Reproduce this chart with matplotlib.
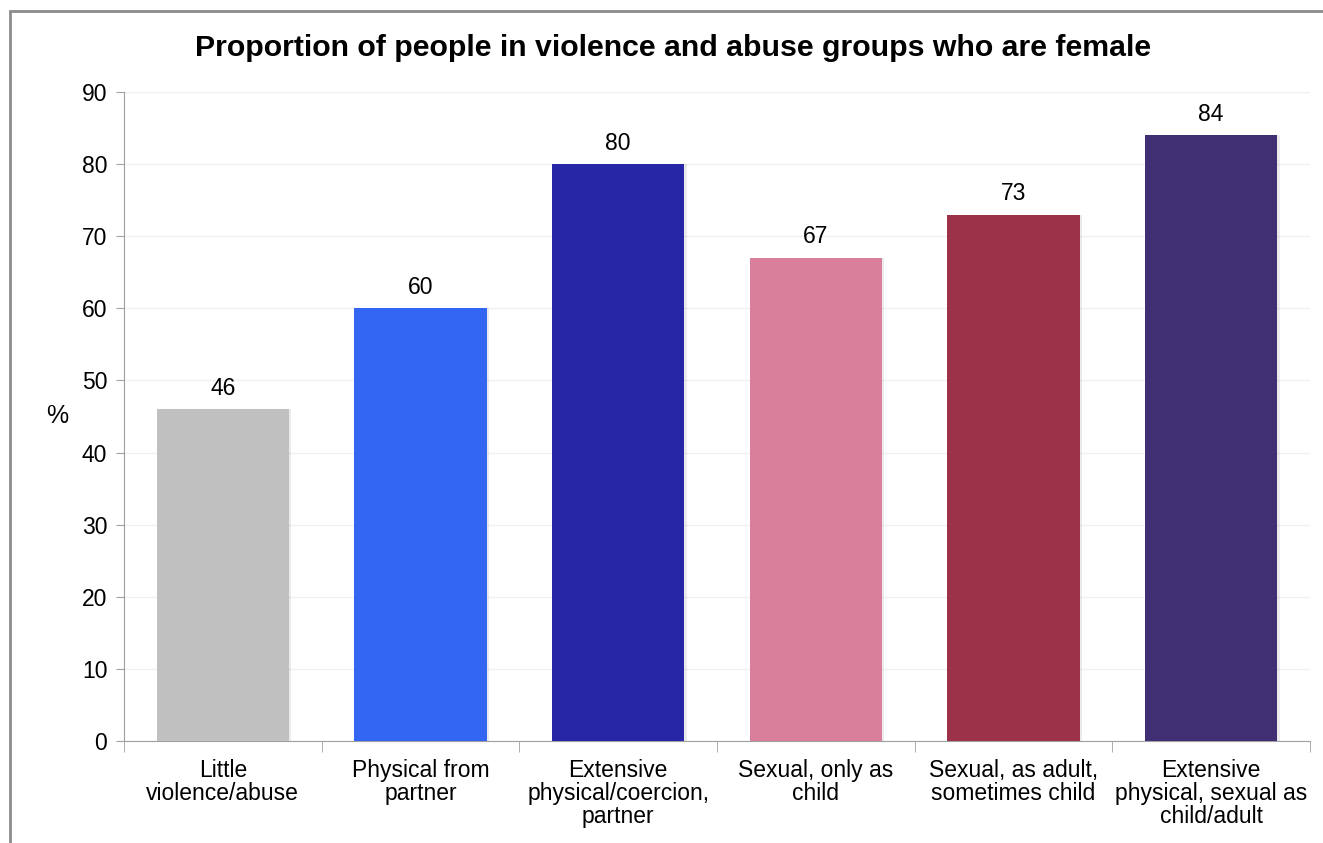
import numpy as np
import matplotlib.pyplot as plt
from matplotlib.patches import Rectangle

categories = ['Little\nviolence/abuse', 'Physical from\npartner',
              'Extensive\nphysical/coercion,\npartner', 'Sexual, only as\nchild',
              'Sexual, as adult,\nsometimes child',
              'Extensive\nphysical, sexual as\nchild/adult']
values = [46, 60, 80, 67, 73, 84]
colors = ['#C0C0C0', '#3366F2', '#2626A6', '#D97F9C', '#9B3249', '#403073']

plt.rcParams['font.family'] = ['Liberation Sans', 'DejaVu Sans']

fig = plt.figure(figsize=(13.23, 8.43), dpi=100)
ax = fig.add_axes([124/1323, 1-741/843, (1310-124)/1323, (741-92)/843])

x = np.arange(len(values))
# faint shadow on the right side of bars
ax.bar(x + 0.012, values, width=0.67, color='#000000', alpha=0.08, zorder=2)
ax.bar(x, values, width=0.67, color=colors, zorder=3)
for xi, v in zip(x, values):
    ax.text(xi, v + 1.3, str(v), ha='center', va='bottom', fontsize=16.5)

ax.set_xlim(-0.5, 5.5)
ax.set_ylim(0, 90)
ax.set_yticks(range(0, 91, 10))
ax.set_xticks(x)
ax.set_xticklabels(categories, fontsize=16.5, linespacing=1.0)
ax.set_xticks(np.arange(-0.5, 6, 1), minor=True)
ax.tick_params(axis='x', which='major', length=0, pad=13)
ax.tick_params(axis='x', which='minor', length=8, color='#A0A0A0')
ax.tick_params(axis='y', labelsize=16.5, length=6, color='#A0A0A0', pad=6)
ax.yaxis.grid(True, color='#F0F0F0', lw=1, zorder=0)
ax.set_axisbelow(True)
for s in ['top', 'right']:
    ax.spines[s].set_visible(False)
for s in ['left', 'bottom']:
    ax.spines[s].set_color('#A0A0A0')

ax.set_ylabel('%', rotation=0, fontsize=18, labelpad=18, va='center')
fig.text(0.509, 1-48/843, 'Proportion of people in violence and abuse groups who are female',
         ha='center', va='center', fontsize=21.8, fontweight='bold')

fig.patches.append(Rectangle((10/1323, -0.1), 1.2, 1-11/843+0.1, transform=fig.transFigure,
                             fill=False, edgecolor='#8C8C8C', lw=2))

fig.savefig('out.png', dpi=100)
